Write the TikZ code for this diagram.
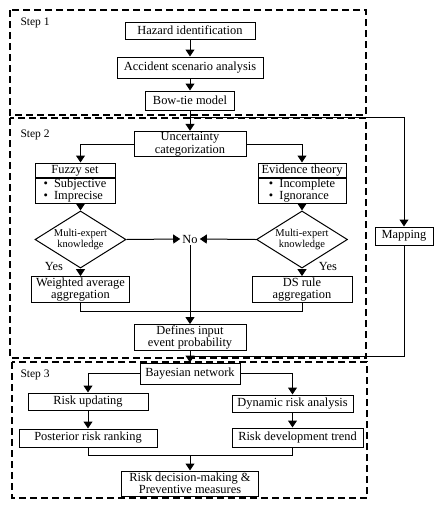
\documentclass[tikz,border=0pt]{standalone}
\usepackage{fontspec}
\setmainfont{Liberation Serif}
\usetikzlibrary{shapes.geometric,arrows.meta,positioning,calc}

\begin{document}
\begin{tikzpicture}[x=1pt, y=-1pt,
  bx/.style={rectangle, draw, line width=1pt, inner sep=1pt, align=center,
    font=\fontsize{12.4}{12.5}\selectfont},
  txt/.style={inner sep=2pt, font=\fontsize{12.4}{12.5}\selectfont},
  choice/.style={diamond, draw, line width=1pt, inner sep=-4pt, minimum width=91pt,
    minimum height=41pt, align=center, font=\fontsize{10.5}{10.5}\selectfont},
  frm/.style={draw, line width=1.3pt, dash pattern=on 7pt off 4pt},
  lbl/.style={anchor=west, font=\fontsize{11.5}{12}\selectfont},
  arr/.style={-{Triangle[length=7pt,width=9pt]}, line width=1pt},
  ln/.style={line width=1pt}]
\useasboundingbox (0,0) rectangle (441,507);
\draw[frm] (10,10) rectangle (366,115);
\draw[frm] (10,118) rectangle (366,358);
\draw[frm] (12,362) rectangle (367,498);
\node[lbl] (s1) at (17,23) {Step 1};
\node[lbl] (s2) at (17,135) {Step 2};
\node[lbl] (s3) at (17,375) {Step 3};
\node[bx, minimum width=130pt, minimum height=17pt] (haz) at (190,30.5) {Hazard identification};
\node[bx, minimum width=146pt, minimum height=21pt] (acc) at (190,67.5) {Accident scenario analysis};
\node[bx, minimum width=89pt, minimum height=19pt] (bow) at (190,100.5) {Bow-tie model};
\node[bx, minimum width=112pt, minimum height=24pt] (unc) at (190,144) {Uncertainty\\categorization};
\node[bx, minimum width=80pt, minimum height=15pt] (fzh) at (75,170.5) {Fuzzy set};
\node[bx, minimum width=80pt, minimum height=25pt, align=left] (fzb) at (75,190.5) {\textbullet\ \ Subjective\\\textbullet\ \ Imprecise};
\node[bx, minimum width=88pt, minimum height=15pt] (evh) at (302,170.5) {Evidence theory};
\node[bx, minimum width=88pt, minimum height=25pt, align=left] (evb) at (302,190.5) {\textbullet\ \ Incomplete\\\textbullet\ \ Ignorance};
\node[choice] (dl) at (80.5,239.5) {Multi-expert\\knowledge};
\node[choice] (dr) at (302,239.5) {Multi-expert\\knowledge};
\node[txt] (no) at (190,239) {No};
\node[txt] (yl) at (54,266) {Yes};
\node[txt] (yr) at (328,266) {Yes};
\node[bx, minimum width=98pt, minimum height=25pt] (wa) at (80.5,289.5) {Weighted average\\aggregation};
\node[bx, minimum width=100pt, minimum height=25pt] (ds) at (302,289.5) {DS rule\\aggregation};
\node[bx, minimum width=112pt, minimum height=25pt] (def) at (190,337.5) {Defines input\\event probability};
\node[bx, minimum width=58pt, minimum height=18pt] (map) at (404,236) {Mapping};
\node[bx, minimum width=100pt, minimum height=21pt] (bay) at (190,373.5) {Bayesian network};
\node[bx, minimum width=120pt, minimum height=17pt] (upd) at (88,401.5) {Risk updating};
\node[bx, minimum width=121pt, minimum height=17pt] (dyn) at (292.5,403.5) {Dynamic risk analysis};
\node[bx, minimum width=138pt, minimum height=18pt] (post) at (88,438) {Posterior risk ranking};
\node[bx, minimum width=131pt, minimum height=19pt] (trend) at (297.5,437.5) {Risk development trend};
\node[bx, minimum width=137pt, minimum height=25pt] (dm) at (190,483.5) {Risk decision-making \&\\Preventive measures};
\coordinate (sp) at (190,117);
\coordinate (jn) at (190,356);
\coordinate (m2) at ($(wa.south)+(0,9)$);
\coordinate (m3) at ($(post.south)+(0,8)$);
\draw[arr] (haz) -- (acc);
\draw[arr] (acc) -- (bow);
\draw[arr] (bow) -- (unc);
\draw[arr] (sp) -| (map.north);
\draw[ln] (map.south) |- (jn);
\draw[arr] (unc.west) -| (fzh.north -| dl.north);
\draw[arr] (unc.east) -| (evh.north);
\draw[arr] (fzb.south -| dl.north) -- (dl.north);
\draw[arr] (evb) -- (dr);
\draw[arr] (dl.east) -- (no.west);
\draw[arr] (dr.west) -- (no.east);
\draw[arr] (no) -- (def);
\draw[arr] (dl) -- (wa);
\draw[arr] (dr) -- (ds);
\draw[ln] (wa.south) -- (m2) -| (ds.south);
\draw[arr] (def) -- (bay);
\draw[arr] (bay.west) -| (upd.north);
\draw[arr] (bay.east) -| (dyn.north);
\draw[arr] (upd) -- (post);
\draw[arr] (dyn.south) -- (dyn.south |- trend.north);
\draw[ln] (post.south) -- (m3) -| (dyn.south |- trend.south);
\draw[arr] (dm.north |- m3) -- (dm);
\end{tikzpicture}
\end{document}
